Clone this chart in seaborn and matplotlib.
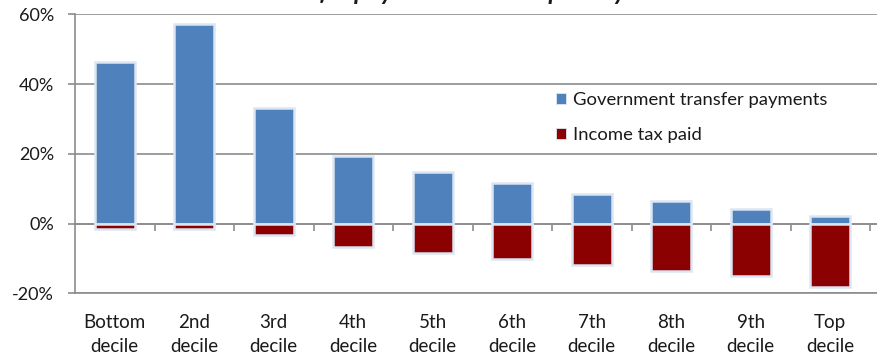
import matplotlib
matplotlib.use("Agg")
import matplotlib.pyplot as plt
import matplotlib.ticker as mticker
import seaborn as sns
import pandas as pd

deciles = ["Bottom\ndecile", "2nd\ndecile", "3rd\ndecile", "4th\ndecile", "5th\ndecile",
           "6th\ndecile", "7th\ndecile", "8th\ndecile", "9th\ndecile", "Top\ndecile"]
transfers = [46.2, 57.2, 33.2, 19.3, 14.9, 11.5, 8.5, 6.5, 4.3, 2.1]
income_tax = [-1.7, -1.5, -3.4, -6.7, -8.4, -10.2, -12.0, -13.6, -15.1, -18.2]
series_names = ["Government transfer payments", "Income tax paid"]
series_colors = ["#4F81BD", "#8B0000"]
title = "Transfer payments and tax paid by decile"

df = pd.concat([
    pd.DataFrame({"decile": deciles, "series": series_names[0], "value": transfers}),
    pd.DataFrame({"decile": deciles, "series": series_names[1], "value": income_tax}),
])

sns.set_theme(style="white")
plt.rcParams["font.family"] = ["Lato", "DejaVu Sans"]
plt.rcParams["text.color"] = "#1a1a1a"

W, H = 877, 360
fig = plt.figure(figsize=(W / 100, H / 100), dpi=100)
ax = fig.add_axes([75 / W, (H - 293.3) / H, (W - 75) / W, (293.3 - 14.3) / H])

grid_c = "#8c8c8c"
sns.barplot(data=df, x="decile", y="value", hue="series", dodge=False,
            palette=series_colors, saturation=1, width=0.5,
            edgecolor="#dce6f2", linewidth=1.8, ax=ax, zorder=2)

ax.set_ylim(-20, 60)
ax.set_xlim(-0.5, 9.5 + 7 / 79.5)
ax.yaxis.set_major_locator(mticker.MultipleLocator(20))
ax.yaxis.set_major_formatter(mticker.FuncFormatter(lambda v, p: f"{v:.0f}%"))
ax.set_axisbelow(True)
ax.yaxis.grid(True, color=grid_c, linewidth=1.2)
ax.set_xlabel("")
ax.set_ylabel("")

for s in ["top", "right"]:
    ax.spines[s].set_visible(False)
for s in ["left", "bottom"]:
    ax.spines[s].set_color(grid_c)
    ax.spines[s].set_linewidth(1.2)

ax.tick_params(axis="y", left=True, length=5, width=1.2, color=grid_c,
               pad=10, labelsize=13, labelcolor="#1a1a1a")
ax.tick_params(axis="x", bottom=False, length=0, pad=15, labelsize=13.5,
               labelcolor="#1a1a1a")
for lbl in ax.get_xticklabels():
    lbl.set_linespacing(1.5)

# category axis along the zero line, with boundary ticks
zero_frac = (0 - (-20)) / 80
sec = ax.secondary_xaxis(zero_frac)
sec.set_xticks([i - 0.5 for i in range(1, 11)])
sec.set_xticklabels([])
sec.tick_params(axis="x", direction="out", length=5, width=1.2, color=grid_c)
sec.spines["bottom"].set_color(grid_c)
sec.spines["bottom"].set_linewidth(1.2)

handles, labels = ax.get_legend_handles_labels()
for h in handles:
    h.set_edgecolor("#dce6f2")
    h.set_linewidth(0.6)
leg = ax.legend(handles, labels, loc="upper left",
                bbox_to_anchor=((556 - 75) / (W - 75), 1 - (92 - 14.3) / 279),
                frameon=False, fontsize=13.3, handlelength=0.55, handleheight=0.55,
                handletextpad=0.35, labelspacing=1.05, borderpad=0, borderaxespad=0)

# chart heading sits above the canvas top; only its descenders reach into view
fig.text((75 + (W - 75) / 2) / W, 1.0, title, ha="center", va="baseline",
         fontsize=18, fontweight="bold", style="italic")

fig.savefig("out.png", dpi=100)
